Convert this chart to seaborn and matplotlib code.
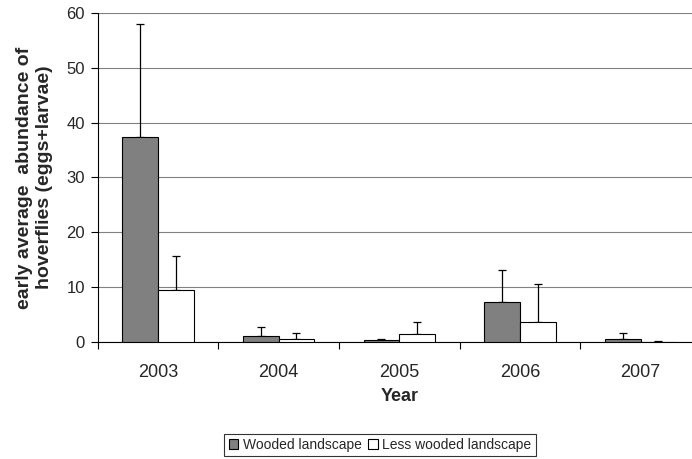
import numpy as np
import pandas as pd
import matplotlib
matplotlib.use("Agg")
import matplotlib.pyplot as plt
import seaborn as sns
from matplotlib.ticker import FixedLocator

years = ["2003", "2004", "2005", "2006", "2007"]
wooded_mean = [37.4, 1.1, 0.3, 7.3, 0.6]
wooded_err = [20.6, 1.7, 0.15, 5.9, 1.1]
less_mean = [9.5, 0.6, 1.5, 3.7, 0.05]
less_err = [6.1, 1.1, 2.2, 6.9, 0.05]
groups = ["Wooded landscape", "Less wooded landscape"]

df = pd.DataFrame({
    "year": years * 2,
    "value": wooded_mean + less_mean,
    "group": [groups[0]] * 5 + [groups[1]] * 5,
})

sns.set_style("white")
plt.rcParams["font.family"] = ["Liberation Sans", "DejaVu Sans"]

fig = plt.figure(figsize=(6.92, 4.59), dpi=100)
ax = fig.add_axes([0.141, 0.255, 0.872, 0.717])

sns.barplot(
    data=df, x="year", y="value", hue="group",
    palette=["#808080", "#ffffff"], edgecolor="black", linewidth=0.8,
    width=0.59, gap=0, errorbar=None, legend=True, ax=ax, zorder=3,
)

# upper-only error bars, placed on the bar centres seaborn drew
errs = wooded_err + less_err
bars = ax.patches[:10]
for bar, e in zip(bars, errs):
    x = bar.get_x() + bar.get_width() / 2
    ax.errorbar(x, bar.get_height(), yerr=[[0], [e]], fmt="none",
                ecolor="black", elinewidth=0.9, capsize=3.2, capthick=0.9,
                zorder=2)

ax.set_ylim(0, 60)
ax.set_xlim(-0.5, 4.5)
ax.set_yticks(range(0, 61, 10))
ax.yaxis.grid(True, color="#808080", linewidth=0.8, zorder=0)
ax.set_axisbelow(True)
ax.xaxis.set_minor_locator(FixedLocator(np.arange(-0.5, 5, 1.0)))
ax.tick_params(axis="x", which="major", length=0, labelsize=13, pad=16)
ax.tick_params(axis="x", which="minor", length=5, width=0.8, color="black",
               direction="out", bottom=True)
ax.tick_params(axis="y", length=5, width=0.8, color="black", direction="out",
               left=True, labelsize=12, pad=4)

for s in ["top", "right"]:
    ax.spines[s].set_visible(False)
for s in ["left", "bottom"]:
    ax.spines[s].set_color("black")
    ax.spines[s].set_linewidth(0.8)

ax.set_xlabel("Year", fontsize=13, fontweight="bold", labelpad=5)
ax.set_ylabel("early average  abundance of\nhoverflies (eggs+larvae)",
              fontsize=14, fontweight="bold", labelpad=10)

leg = ax.legend(loc="center", bbox_to_anchor=(380 / 692, 1 - 445 / 459),
                bbox_transform=fig.transFigure, ncol=2, frameon=True,
                fancybox=False, edgecolor="black", fontsize=10,
                handlelength=0.7, handleheight=0.7, handletextpad=0.3,
                columnspacing=0.5, borderpad=0.3)
leg.get_frame().set_linewidth(0.8)

fig.savefig("out.png", dpi=100)
